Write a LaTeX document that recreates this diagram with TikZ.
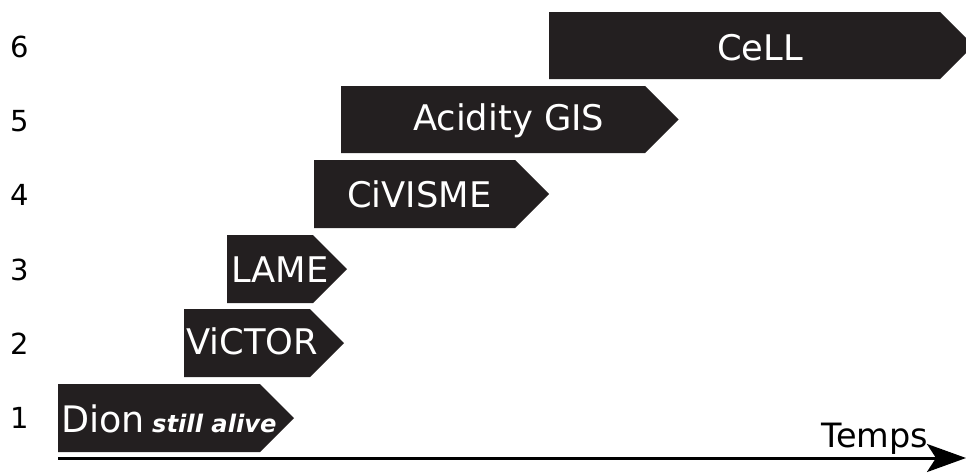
\documentclass[tikz,border=0pt]{standalone}
\usepackage{fontspec}
\setmainfont{DejaVu Sans}
\usetikzlibrary{arrows.meta}
\definecolor{barcol}{HTML}{231F20}
\newcommand\tlbar[4]{%
  \fill[barcol] (#1,#2) -- (#3,#2) -- ({#3+(#4-#2)/2},{(#2+#4)/2}) -- (#3,#4) -- (#1,#4) -- cycle;}
\tikzset{
  barlabel/.style={anchor=base west, inner sep=0pt, text=white, font=\fontsize{35.3}{40}\selectfont},
  numlabel/.style={anchor=base west, inner sep=0pt, text=black, font=\fontsize{29}{34}\selectfont},
}
\begin{document}
\begin{tikzpicture}[x=1pt,y=-1pt]
\useasboundingbox (0,0) rectangle (966,472);
\clip (0,0) rectangle (966,472);
% bars
\tlbar{549}{12}{940}{79}
\tlbar{341}{86}{645}{153}
\tlbar{314}{160}{515}{228}
\tlbar{227}{235}{313}{303}
\tlbar{184}{309}{310}{377}
\tlbar{58}{384}{260}{452}
% bar labels
\node[barlabel] (cell) at (717,60) {CeLL};
\node[barlabel] (acid) at (413,130) {Acidity GIS};
\node[barlabel] (civ) at (347,207) {CiVISME};
\node[barlabel] (lame) at (231,282) {LAME};
\node[barlabel] (vic) at (186,354) {ViCTOR};
\node[anchor=base west, inner sep=0pt, text=white, font=\fontsize{36.5}{42}\selectfont] (dion) at (61,432) {Dion};
\node[anchor=base west, inner sep=0pt, text=white, font=\fontsize{24.2}{28}\selectfont\bfseries\itshape] (alive) at (152,432) {still alive};
% row numbers
\node[numlabel] (n6) at (10,57) {6};
\node[numlabel] (n5) at (10,131) {5};
\node[numlabel] (n4) at (10,205) {4};
\node[numlabel] (n3) at (10,280) {3};
\node[numlabel] (n2) at (10,354) {2};
\node[numlabel] (n1) at (10,428) {1};
% time axis
\coordinate (axs) at (58,458);
\coordinate (axe) at (966,458);
\draw[line width=3pt, -{Stealth[length=39pt,width=28pt,inset=9pt]}] (axs) -- (axe);
\node[anchor=base west, inner sep=0pt, font=\fontsize{33.5}{38}\selectfont] (temps) at (821,447) {Temps};
\end{tikzpicture}
\end{document}
